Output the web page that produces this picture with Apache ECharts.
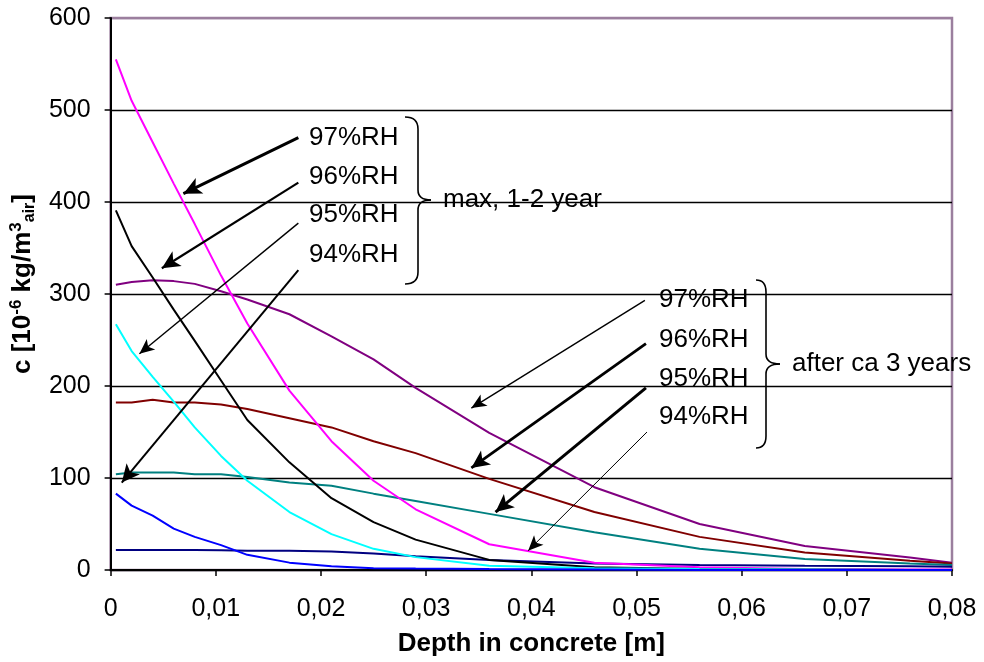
<!DOCTYPE html>
<html>
<head>
<meta charset="utf-8">
<script src="https://cdn.jsdelivr.net/npm/echarts@6/dist/echarts.min.js"></script>
<style>html,body{margin:0;padding:0;background:#fff}#c{width:984px;height:662px}</style>
</head>
<body>
<div id="c"></div>
<script>
// ---- data ----
const depth = [0.0005, 0.002, 0.004, 0.006, 0.008, 0.0105, 0.013, 0.017, 0.021, 0.025, 0.029, 0.036, 0.046, 0.056, 0.066, 0.076, 0.08];
const max97 = [555, 510, 465, 420, 376, 320, 268, 195, 140, 97, 66, 28, 8, 3, 1, 0.5, 0.5];
const max96 = [391, 352, 318, 283, 249, 206, 163, 117, 78, 52, 33, 11, 3, 1, 0.5, 0, 0];
const max95 = [267, 238, 210, 183, 155, 124, 97, 63, 39, 23, 14, 4.5, 2, 1, 0.5, 0, 0];
const max94 = [83, 70, 59, 45, 36, 27, 16.5, 8, 4, 2, 1.5, 1, 0.5, 0, 0, 0, 0];
const after97 = [310, 313, 315, 314, 311, 303, 294, 278, 254, 229, 198, 149, 90, 50, 26, 13.5, 8];
const after96 = [182, 182, 185, 182, 182, 180, 175, 165, 155, 140, 127, 99, 63, 36, 19, 10, 7];
const after95 = [104, 106, 106, 106, 104, 104, 101, 95, 91.5, 83, 75, 61, 41, 23, 12, 7, 5.5];
const after94 = [21.7, 21.7, 21.7, 21.7, 21.7, 21.5, 21, 21, 20, 18, 15, 11, 7, 5.5, 4.5, 4, 3.5];
const xTickLabels = ['0', '0,01', '0,02', '0,03', '0,04', '0,05', '0,06', '0,07', '0,08'];
const yTickLabels = ['0', '100', '200', '300', '400', '500', '600'];
const rhLabels = ['97%RH', '96%RH', '95%RH', '94%RH'];
const groupLabels = ['max, 1-2 year', 'after ca 3 years'];

// annotation arrows in data units: [fromX, fromY, toX, toY, width]
const arrowsMax = [
  [0.01785, 470, 0.00692, 409, 3],
  [0.01785, 421, 0.00487, 328, 2.2],
  [0.01785, 377, 0.00274, 235, 1.4],
  [0.01785, 326, 0.00106, 95, 2]
];
const arrowsAfter = [
  [0.0508, 293, 0.0343, 176, 1.4],
  [0.0509, 246, 0.0343, 111, 2.8],
  [0.0509, 198, 0.0366, 63, 3],
  [0.0510, 150, 0.0397, 21, 1]
];

const FONT = 'Liberation Sans, Arial, sans-serif';
const pairs = arr => depth.map((d, i) => [d, arr[i]]);

function lineSeries(name, arr, color) {
  return {
    name, type: 'line', data: pairs(arr), symbol: 'none', smooth: false,
    lineStyle: { color, width: 2 }, itemStyle: { color }, silent: true, z: 3
  };
}
function arrowLines(list) {
  return list.map(a => {
    const big = a[4] >= 2;
    return [
      { coord: [a[0], a[1]], symbol: 'none' },
      { coord: [a[2], a[3]], symbol: 'arrow', symbolSize: big ? [13, 18] : [10, 15],
        lineStyle: { width: a[4], color: '#000', type: 'solid' } }
    ];
  });
}

const chart = echarts.init(document.getElementById('c'), null, { renderer: 'canvas' });

const els = [];
const upperY = [138, 177, 215, 255];
const lowerY = [300, 340, 379, 417];
function txt(t, x, y) {
  return { type: 'text', x, y, z: 10,
    style: { text: t, font: '26px ' + FONT, fill: '#000', align: 'left', verticalAlign: 'middle', textAlign: 'left', textVerticalAlign: 'middle' } };
}
rhLabels.forEach((t, i) => {
  els.push(txt(t, 309, upperY[i]));
  els.push(txt(t, 659, lowerY[i]));
});
els.push(txt(groupLabels[0], 443, 200));
els.push(txt(groupLabels[1], 792, 364));

function brace(x0, xv, xt, yTop, yMid, yBot) {
  const st = { stroke: '#000', lineWidth: 1.6, fill: null };
  const b = (x1, y1, cx, cy, x2, y2) => ({ type: 'bezierCurve', z: 10, shape: { x1, y1, cpx1: cx, cpy1: cy, x2, y2 }, style: st });
  const l = (x1, y1, x2, y2) => ({ type: 'line', z: 10, shape: { x1, y1, x2, y2 }, style: st });
  return [
    b(x0, yTop, xv, yTop, xv, yTop + 12),
    l(xv, yTop + 12, xv, yMid - 10),
    b(xv, yMid - 10, xv, yMid, xt, yMid),
    b(xt, yMid, xv, yMid, xv, yMid + 10),
    l(xv, yMid + 10, xv, yBot - 12),
    b(xv, yBot - 12, xv, yBot, x0, yBot)
  ];
}
els.push(...brace(405, 418, 431, 117, 200, 284));
els.push(...brace(756, 766, 780, 280, 364, 448));

const option = {
  animation: false,
  backgroundColor: '#fff',
  grid: { left: 110, right: 32, top: 18, bottom: 92, show: true, borderColor: '#9b7f9e', borderWidth: 2.5, backgroundColor: 'transparent' },
  xAxis: {
    type: 'value', min: 0, max: 0.08, interval: 0.01,
    name: 'Depth in concrete [m]', nameLocation: 'middle', nameGap: 61,
    nameTextStyle: { fontFamily: FONT, fontSize: 26, fontWeight: 'bold', color: '#000' },
    axisLine: { show: true, onZero: false, lineStyle: { color: '#000', width: 2 } },
    axisTick: { show: true, length: 6, inside: false, lineStyle: { color: '#000', width: 1.5 } },
    axisLabel: { fontFamily: FONT, fontSize: 25, color: '#000', margin: 27,
      formatter: v => xTickLabels[Math.round(v / 0.01)] },
    splitLine: { show: false }
  },
  yAxis: {
    type: 'value', min: 0, max: 600, interval: 100,
    name: '{b|c [10}{sup|-6}{b| kg/m}{sup|3}{sub|air}{b|]}',
    nameLocation: 'middle', nameGap: 62, nameRotate: 90,
    nameTextStyle: {
      fontFamily: FONT, color: '#000', padding: [0, 0, 0, 20],
      rich: {
        b: { fontFamily: FONT, fontSize: 26, fontWeight: 'bold', color: '#000', verticalAlign: 'middle', lineHeight: 30 },
        sup: { fontFamily: FONT, fontSize: 17, fontWeight: 'bold', color: '#000', verticalAlign: 'top', lineHeight: 30 },
        sub: { fontFamily: FONT, fontSize: 16, fontWeight: 'bold', color: '#000', verticalAlign: 'bottom', lineHeight: 30 }
      }
    },
    axisLine: { show: true, lineStyle: { color: '#000', width: 2 } },
    axisTick: { show: true, length: 6, inside: false, lineStyle: { color: '#000', width: 1.5 } },
    axisLabel: { fontFamily: FONT, fontSize: 25, color: '#000', margin: 20,
      formatter: v => yTickLabels[Math.round(v / 100)] },
    splitLine: { show: true, lineStyle: { color: ['#000', '#000', '#000', '#000', '#000', '#000', '#9b7f9e'], width: 1.3 } }
  },
  graphic: { elements: els },
  series: [
    lineSeries('97%RH after', after97, '#800080'),
    lineSeries('96%RH after', after96, '#800000'),
    lineSeries('95%RH after', after95, '#008080'),
    lineSeries('94%RH after', after94, '#000080'),
    lineSeries('97%RH max', max97, '#FF00FF'),
    lineSeries('96%RH max', max96, '#000000'),
    lineSeries('95%RH max', max95, '#00FFFF'),
    lineSeries('94%RH max', max94, '#0000FF'),
    {
      name: 'arrows', type: 'line', data: [], silent: true, z: 6,
      markLine: {
        silent: true, animation: false,
        symbol: ['none', 'arrow'],
        label: { show: false },
        emphasis: { disabled: true },
        lineStyle: { color: '#000', type: 'solid' },
        data: arrowLines(arrowsMax).concat(arrowLines(arrowsAfter))
      }
    }
  ]
};
chart.setOption(option);
</script>
</body>
</html>
